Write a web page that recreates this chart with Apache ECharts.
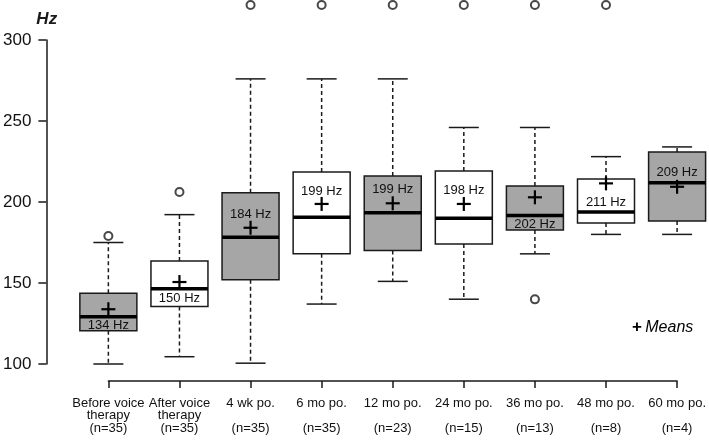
<!DOCTYPE html>
<html>
<head>
<meta charset="utf-8">
<script src="https://cdn.jsdelivr.net/npm/echarts@6/dist/echarts.min.js"></script>
<style>
  html, body { margin: 0; padding: 0; background: #fff; }
  #main { width: 709px; height: 440px; }
</style>
</head>
<body>
<div id="main"></div>
<script>
// categories (x axis)
var categories = [
	'Before voice\ntherapy\n(n=35)',
	'After voice\ntherapy\n(n=35)',
	'4 wk po.\n\n(n=35)',
	'6 mo po.\n\n(n=35)',
	'12 mo po.\n\n(n=23)',
	'24 mo po.\n\n(n=15)',
	'36 mo po.\n\n(n=13)',
	'48 mo po.\n\n(n=8)',
	'60 mo po.\n\n(n=4)'
];

// box statistics, Hz
var whiskerLow  = [100, 104.5, 100.5, 137, 151, 140, 168, 180, 180];
var q1          = [120.5, 135.5, 152, 168, 170, 174, 182.7, 187, 188.3];
var median      = [129.2, 146.5, 178.2, 190.6, 193.4, 190, 191.6, 193.8, 211.9];
var q3          = [143.6, 163.6, 205.7, 218.5, 216, 219.1, 209.9, 214.2, 230.9];
var whiskerHigh = [175, 192.2, 276, 276, 276, 246, 246, 228, 234];
var means       = [133.8, 150.6, 184.1, 198.8, 199.2, 198.8, 202.9, 211.5, 209.4];
var meanLabels  = ['134 Hz', '150 Hz', '184 Hz', '199 Hz', '199 Hz', '198 Hz', '202 Hz', '211 Hz', '209 Hz'];

// outliers: [category index, Hz]
var outliers = [[0, 179], [1, 206.2], [2, 321.6], [3, 321.6], [4, 321.6], [5, 321.6], [6, 321.6], [6, 139.9], [7, 321.6]];

// y axis
var yMin = 100, yMax = 300, yStep = 50;

var ink = '#1a1a1a';
var grayFill = '#a6a6a6';
// label offset from the mean, px (negative = above)
var labelDy = [16, 16, -13, -13, -14, -14, 27, 19, -14];

var boxData = categories.map(function (c, i) {
	return [i, whiskerLow[i], q1[i], median[i], q3[i], whiskerHigh[i], means[i]];
});

var chart = echarts.init(document.getElementById('main'));

option = {
	animation: false,
	grid: { left: 108, right: 30, top: 40, bottom: 76 },
	xAxis: {
		type: 'category',
		data: categories,
		boundaryGap: false,
		offset: 17,
		axisLine: { lineStyle: { color: ink, width: 1.5 } },
		axisTick: { length: 7, lineStyle: { color: ink, width: 1.5 } },
		axisLabel: {
			interval: 0, margin: 16, fontSize: 13, lineHeight: 12.5,
			color: '#111', fontFamily: 'Liberation Sans'
		},
		splitLine: { show: false }
	},
	yAxis: {
		type: 'value',
		min: yMin, max: yMax, interval: yStep,
		offset: 62,
		name: 'Hz',
		nameLocation: 'end',
		nameGap: 12,
		nameTextStyle: { fontSize: 17, fontStyle: 'italic', fontWeight: 'bold', color: ink, fontFamily: 'Liberation Sans', align: 'left', padding: [0, 0, 0, -10] },
		axisLine: { show: true, lineStyle: { color: ink, width: 1.5 } },
		axisTick: { show: true, length: 8, lineStyle: { color: ink, width: 1.5 } },
		axisLabel: { fontSize: 17, margin: 15, color: '#111', fontFamily: 'Liberation Sans' },
		splitLine: { show: false }
	},
	series: [
		{
			type: 'custom',
			data: boxData,
			encode: { x: 0, y: [1, 2, 3, 4, 5, 6] },
			clip: false,
			renderItem: function (params, api) {
				var i = api.value(0);
				var cx = api.coord([i, yMin])[0];
				var y = function (v) { return api.coord([i, v])[1]; };
				var half = 28.5, cap = 15, m = 7;
				var yLo = y(api.value(1)), yQ1 = y(api.value(2)), yMed = y(api.value(3));
				var yQ3 = y(api.value(4)), yHi = y(api.value(5)), yMean = y(api.value(6));
				var line = { stroke: ink, lineWidth: 1.5 };
				var dash = { stroke: ink, lineWidth: 1.5, lineDash: [4, 3] };
				return {
					type: 'group',
					children: [
						{ type: 'line', shape: { x1: cx, y1: yQ3, x2: cx, y2: yHi }, style: dash },
						{ type: 'line', shape: { x1: cx, y1: yQ1, x2: cx, y2: yLo }, style: dash },
						{ type: 'line', shape: { x1: cx - cap, y1: yHi, x2: cx + cap, y2: yHi }, style: line },
						{ type: 'line', shape: { x1: cx - cap, y1: yLo, x2: cx + cap, y2: yLo }, style: line },
						{ type: 'rect', shape: { x: cx - half, y: yQ3, width: half * 2, height: yQ1 - yQ3 },
							style: { fill: i % 2 === 0 ? grayFill : '#fff', stroke: ink, lineWidth: 1.5 } },
						{ type: 'line', shape: { x1: cx - half, y1: yMed, x2: cx + half, y2: yMed }, style: { stroke: '#000', lineWidth: 3.5 } },
						{ type: 'line', shape: { x1: cx - m, y1: yMean, x2: cx + m, y2: yMean }, style: { stroke: '#000', lineWidth: 2.2 } },
						{ type: 'line', shape: { x1: cx, y1: yMean - m, x2: cx, y2: yMean + m }, style: { stroke: '#000', lineWidth: 2.2 } },
						{ type: 'text', x: cx, y: yMean + labelDy[i],
							style: { text: meanLabels[i], fill: '#111', fontSize: 13, fontFamily: 'Liberation Sans', align: 'center', verticalAlign: 'middle' } }
					]
				};
			}
		},
		{
			type: 'scatter',
			data: outliers,
			symbol: 'emptyCircle',
			symbolSize: 8,
			clip: false,
			itemStyle: { color: ink, borderWidth: 1.5 }
		}
	],
	graphic: [
		{
			type: 'text', left: 632, top: 319,
			style: {
				text: '{p|+} {m|Means}',
				rich: {
					p: { fontSize: 17, fontWeight: 'bold', fill: '#000', fontFamily: 'Liberation Sans' },
					m: { fontSize: 16, fontStyle: 'italic', fill: '#000', fontFamily: 'Liberation Sans' }
				}
			}
		}
	]
};

chart.setOption(option);
</script>
</body>
</html>
